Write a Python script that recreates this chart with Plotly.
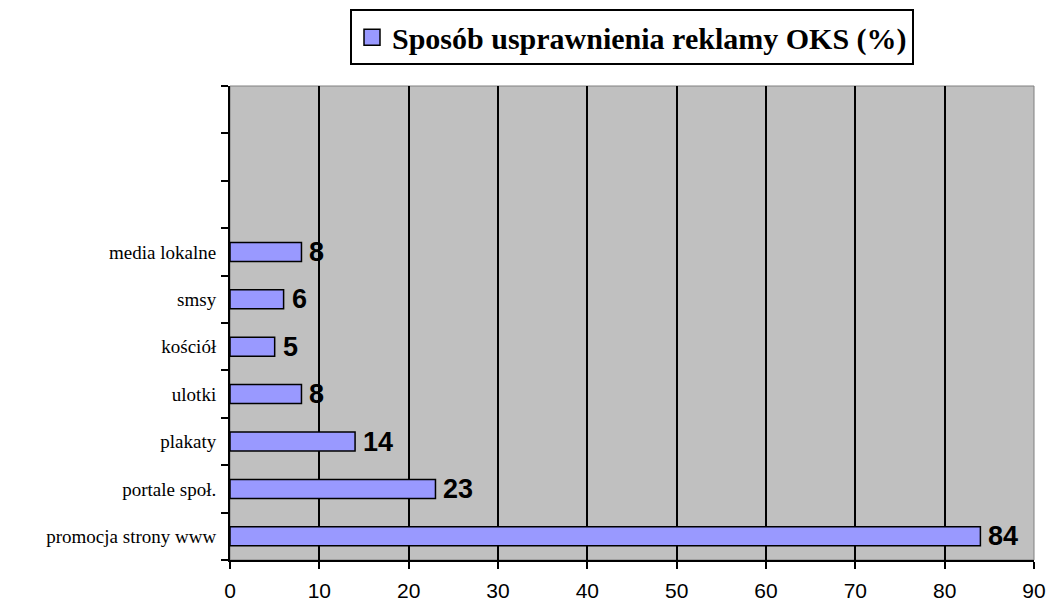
import plotly.graph_objects as go

categories = ["promocja strony www", "portale społ.", "plakaty", "ulotki", "kościół", "smsy", "media lokalne"]
values = [84, 23, 14, 8, 5, 6, 8]
blank_slots = [" ", "  ", "   "]
series_name = "Sposób usprawnienia reklamy OKS (%)"
x_ticks = [0, 10, 20, 30, 40, 50, 60, 70, 80, 90]

BAR_COLOR = "#9999FF"

fig = go.Figure()
fig.add_trace(go.Bar(
    y=categories, x=values, orientation="h", name=series_name,
    marker=dict(color=BAR_COLOR, line=dict(color="#000000", width=1.5)),
    width=0.4, showlegend=False,
))
# legend entry with a larger square swatch
fig.add_trace(go.Scatter(
    x=[None], y=[None], mode="markers", name=series_name,
    marker=dict(symbol="square", size=16, color=BAR_COLOR, line=dict(color="#000000", width=1.5)),
    showlegend=True, hoverinfo="skip",
))

for cat, v in zip(categories, values):
    fig.add_annotation(
        x=v, y=cat, text=str(v), showarrow=False, xanchor="left", yanchor="middle",
        xshift=6, font=dict(family="Liberation Sans", size=27, color="#000000", weight="bold"),
    )

fig.update_layout(
    width=1052, height=609,
    margin=dict(l=230, r=18, t=86, b=49),
    paper_bgcolor="#FFFFFF", plot_bgcolor="#C0C0C0",
    showlegend=True,
    legend=dict(
        x=0.5, xanchor="center", y=0.985, yanchor="top", yref="container",
        orientation="h", bgcolor="#FFFFFF", bordercolor="#000000", borderwidth=2,
        font=dict(family="Liberation Serif", size=30, color="#000000", weight="bold"),
        itemwidth=30, itemsizing="trace",
    ),
    xaxis=dict(
        range=[0, 90], tickvals=x_ticks, showgrid=True, gridcolor="#000000", gridwidth=1.5,
        showline=True, linecolor="#000000", linewidth=2, mirror=False,
        ticks="outside", ticklen=7, tickcolor="#000000", tickwidth=2,
        tickfont=dict(family="Liberation Sans", size=21, color="#000000"),
        zeroline=False, automargin=False, ticklabelstandoff=4,
        ticklabeloverflow="allow",
    ),
    yaxis=dict(
        type="category", categoryorder="array", categoryarray=categories + blank_slots,
        range=[-0.5, 9.5], showgrid=False, showline=True, linecolor="#000000", linewidth=2,
        ticks="outside", tickson="boundaries", ticklen=7, tickcolor="#000000", tickwidth=2,
        tickfont=dict(family="Liberation Serif", size=19, color="#000000"),
        ticklabelstandoff=8, automargin=False,
    ),
)
fig.add_shape(type="rect", xref="paper", yref="paper", x0=0, x1=1, y0=0, y1=1,
              line=dict(color="#808080", width=1), layer="below")

fig.write_html(
    "out.html",
    config={"displayModeBar": False},
    post_script="document.body.style.margin='0';document.body.style.overflow='hidden';",
)
